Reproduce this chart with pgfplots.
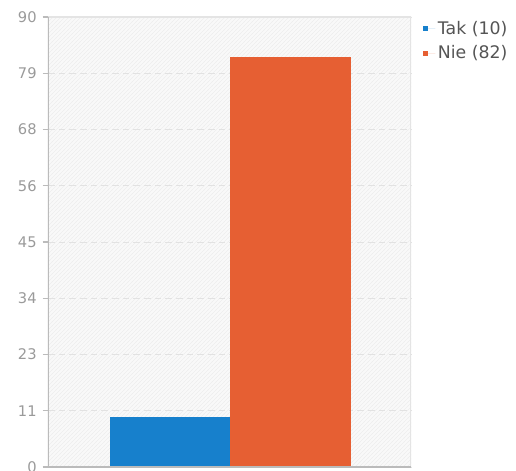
\documentclass[border=0pt]{standalone}
\usepackage{fontspec}
\setmainfont{DejaVu Sans}
\usepackage{pgfplots}
\pgfplotsset{compat=1.18}
\usetikzlibrary{patterns}

\definecolor{takblue}{HTML}{1780CC}
\definecolor{nieorange}{HTML}{E65F33}
\definecolor{axisgray}{HTML}{BBBBBB}
\definecolor{framegray}{HTML}{E4E4E4}
\definecolor{gridgray}{HTML}{E2E2E2}
\definecolor{ticktext}{HTML}{9A9A9A}
\definecolor{legtext}{HTML}{555555}
\definecolor{bgfill}{HTML}{F9F9F9}
\definecolor{hatch}{HTML}{EDEDED}

\begin{document}
\begin{tikzpicture}
\path[use as bounding box] (-36pt,-2.25pt) rectangle (351pt,350.25pt);
\begin{axis}[
  scale only axis,
  width=272.25pt, height=337.5pt,
  xmin=-1.012, xmax=2.0,
  ymin=0, ymax=90,
  xtick=\empty,
  ytick={0,11.25,22.5,33.75,45,56.25,67.5,78.75,90},
  yticklabels={0,11,23,34,45,56,68,79,90},
  ytick pos=left,
  /pgf/number format/assume math mode=true,
  tick align=outside,
  major tick length=4pt,
  ytick style={draw=axisgray, line width=0.8pt},
  yticklabel style={font=\fontsize{11}{13}\selectfont, text=ticktext, xshift=-1pt},
  axis line style={draw=none},
  ymajorgrids,
  major grid style={draw=gridgray, dash pattern=on 5pt off 3pt, line width=0.7pt},
  axis background/.style={preaction={fill=bgfill}, pattern=north east lines, pattern color=hatch},
  legend style={at={(1,1)}, anchor=north west, xshift=9pt, yshift=-1pt,
    draw=none, fill=none, font=\fontsize{13}{15}\selectfont, text=legtext,
    row sep=3pt, inner sep=0pt},
  legend cell align=left,
  legend image code/.code={%
    \fill[#1] (0pt,-1.9pt) rectangle (3.8pt,1.9pt);
    \path (0pt,0pt) -- (9pt,0pt);},
]
\addplot[ybar, bar width=1, bar shift=0, fill=takblue, draw=none] coordinates {(0,10)};
\addlegendentry{Tak (10)}
\addplot[ybar, bar width=1, bar shift=0, fill=nieorange, draw=none] coordinates {(1,82)};
\addlegendentry{Nie (82)}
% frame: light top and right edges, darker left and bottom axis lines
\draw[framegray, line width=0.8pt] (rel axis cs:0,1) -- (rel axis cs:1,1) -- (rel axis cs:1,0);
\draw[axisgray, line width=1.2pt] (rel axis cs:0,1) -- (rel axis cs:0,0) -- (rel axis cs:1,0);
\end{axis}
\end{tikzpicture}
\end{document}
